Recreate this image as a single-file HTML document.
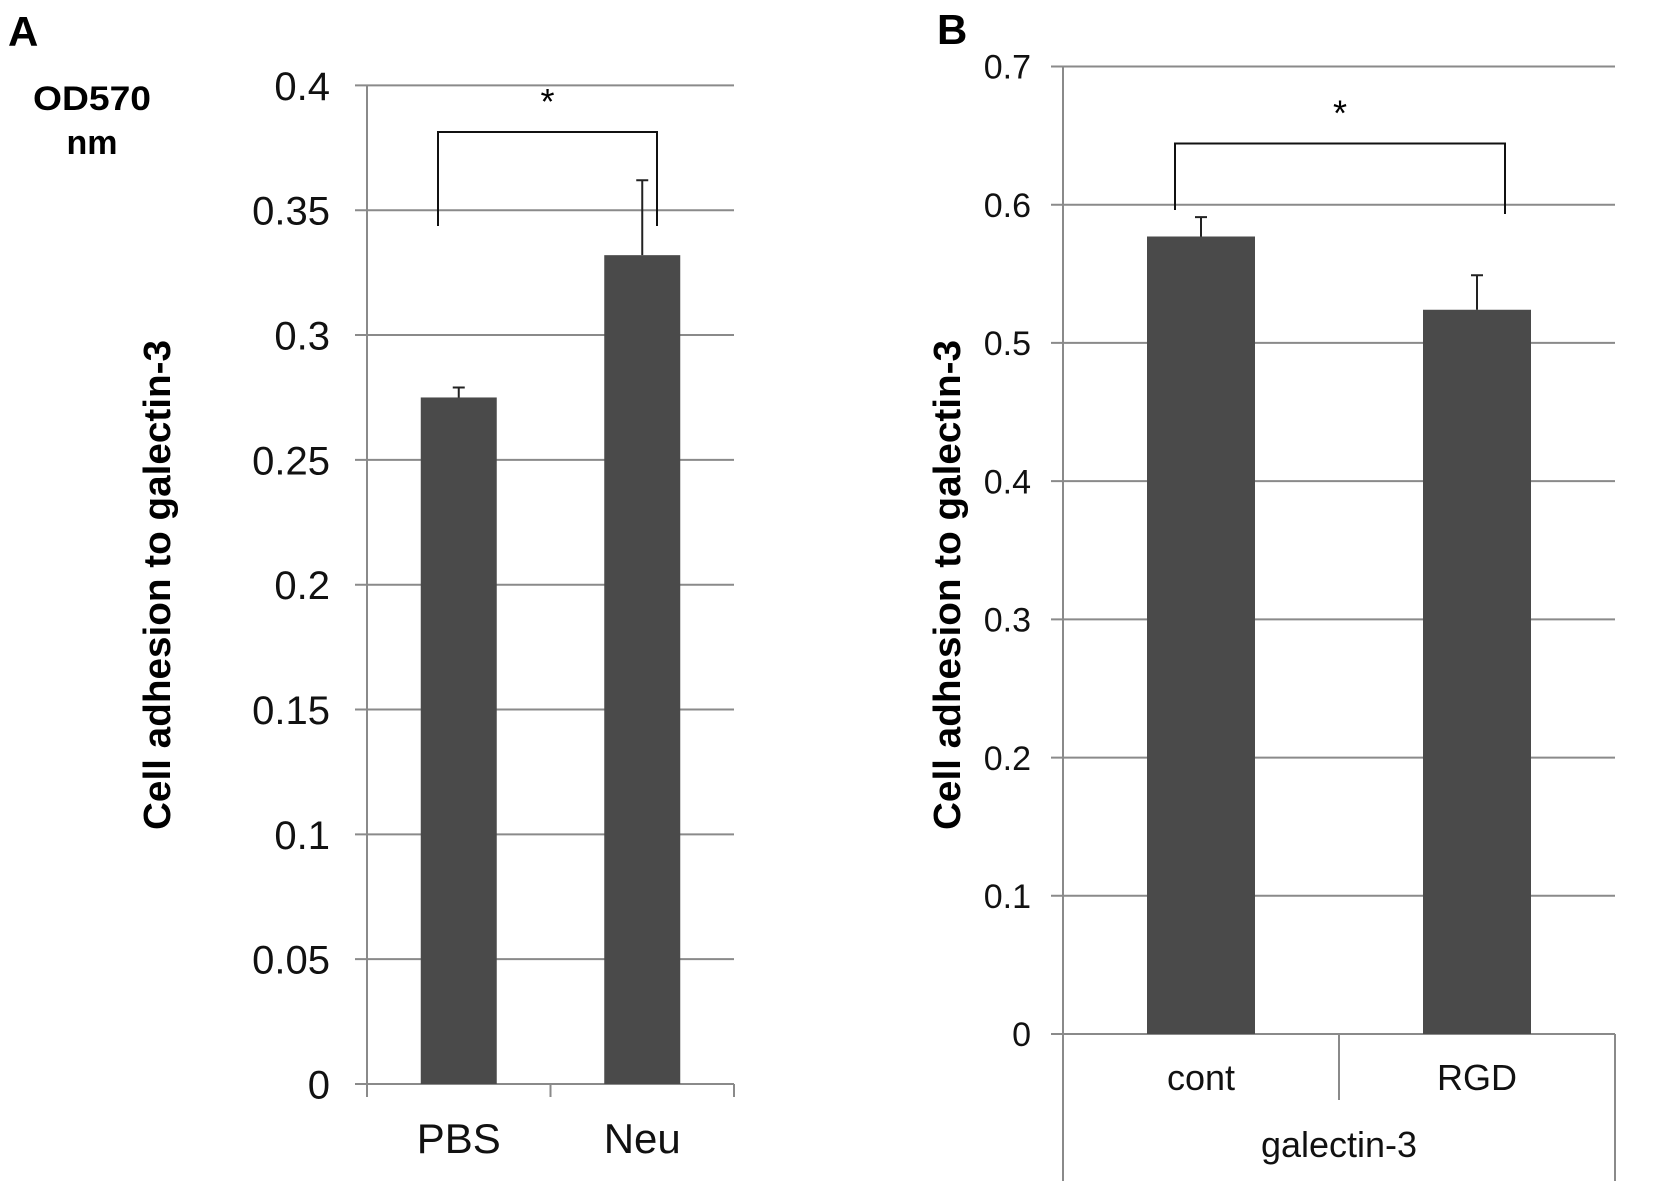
<!DOCTYPE html>
<html><head><meta charset="utf-8"><style>
body{margin:0;background:#fff}
svg{display:block;font-family:"Liberation Sans",Arial,sans-serif}
</style></head><body>
<svg id="c" width="1654" height="1181" viewBox="0 0 1654 1181">
<text x="8" y="46" font-size="42" font-weight="bold">A</text>
<text x="92" y="110" font-size="34" font-weight="bold" text-anchor="middle" textLength="118" lengthAdjust="spacingAndGlyphs">OD570</text>
<text x="92" y="154" font-size="34" font-weight="bold" text-anchor="middle">nm</text>
<text transform="translate(170,585) rotate(-90)" font-size="38" font-weight="bold" text-anchor="middle" textLength="490" lengthAdjust="spacingAndGlyphs">Cell adhesion to galectin-3</text>
<text x="937" y="44" font-size="42" font-weight="bold">B</text>
<text transform="translate(960,585) rotate(-90)" font-size="38" font-weight="bold" text-anchor="middle" textLength="490" lengthAdjust="spacingAndGlyphs">Cell adhesion to galectin-3</text>
<g id="ga"></g><g id="gb"></g>
</svg>
<script>
const catsA=["PBS","Neu"];
const valsA=[0.275,0.332];
const errA=[0.004,0.030];
const ticksA=["0","0.05","0.1","0.15","0.2","0.25","0.3","0.35","0.4"];
const catsB=["cont","RGD"];
const valsB=[0.577,0.524];
const errB=[0.014,0.025];
const ticksB=["0","0.1","0.2","0.3","0.4","0.5","0.6","0.7"];
const NS="http://www.w3.org/2000/svg";
function mk(g,tag,at,txt){const e=document.createElementNS(NS,tag);for(const k in at)e.setAttribute(k,at[k]);if(txt!==undefined)e.textContent=txt;g.appendChild(e);return e;}
function panel(g,cfg,cats,vals,errs,ticks){
  const y=v=>cfg.y0-(v/cfg.max)*(cfg.y0-cfg.y1);
  const bw=(cfg.x1-cfg.x0)/cats.length;
  const x=i=>cfg.x0+bw*(i+0.5);
  ticks.forEach(t=>{const v=parseFloat(t);const yy=y(v);
    const l=mk(g,'line',{x1:cfg.x0-12,x2:cfg.x1,y1:yy,y2:yy,stroke:'#8a8a8a','stroke-width':2});
    
    
    const tx=mk(g,'text',{x:cfg.x0-cfg.lblGap,y:yy+cfg.fs*0.36,'font-size':cfg.fs,'text-anchor':'end',fill:'#111'},t);
    
    
  });
  const ax=mk(g,'line',{x1:cfg.x0,x2:cfg.x0,y1:y(cfg.max),y2:cfg.axBottom,stroke:'#8a8a8a','stroke-width':2});
  
  
  cats.forEach((c,i)=>{
    const top=y(vals[i]);
    const r=mk(g,'rect',{x:x(i)-cfg.barW/2,y:top,width:cfg.barW,height:cfg.y0-top,fill:'#4a4a4a'});
    
    
    const ye=y(vals[i]+errs[i]);
    const e=mk(g,'path',{d:`M${x(i)} ${top}V${ye}M${x(i)-6} ${ye}H${x(i)+6}`,stroke:'#222','stroke-width':2,fill:'none'});
    
    
    const t=mk(g,'text',{x:x(i),y:cfg.catY,'font-size':cfg.cfs,'text-anchor':'middle',fill:'#111'},c);
    
    
  });
  for(let i=1;i<cats.length;i++){const xx=cfg.x0+bw*i;
    const d=mk(g,'line',{x1:xx,x2:xx,y1:cfg.y0,y2:cfg.midBottom,stroke:'#8a8a8a','stroke-width':2});
    
    }
  const rt=mk(g,'line',{x1:cfg.x1,x2:cfg.x1,y1:cfg.y0,y2:cfg.rBottom,stroke:'#8a8a8a','stroke-width':2});
  
  
  const b=cfg.br;
  const br=mk(g,'path',{d:`M${b[0]} ${b[3]}V${b[2]}H${b[1]}V${b[4]}`,stroke:'#111','stroke-width':2,fill:'none'});
  
  
  const st=mk(g,'text',{x:(b[0]+b[1])/2,y:b[2]-18,'font-size':36,'text-anchor':'middle'},'*');
  
  
}
panel(document.getElementById('ga'),{x0:367,x1:734,y0:1084,y1:85.4,max:0.4,lblGap:37,fs:40,cfs:42,barW:76,catY:1153,axBottom:1097,midBottom:1097,rBottom:1097,br:[438,657,132,226,226]},catsA,valsA,errA,ticksA);
panel(document.getElementById('gb'),{x0:1063,x1:1615,y0:1034,y1:66.5,max:0.7,lblGap:32,fs:34,cfs:36,barW:108,catY:1090,axBottom:1181,midBottom:1100,rBottom:1181,br:[1175,1505,143.5,210,214]},catsB,valsB,errB,ticksB);
const g=document.getElementById('gb');
const gl=mk(g,'text',{x:1339,y:1157,'font-size':36,'text-anchor':'middle',fill:'#111'},'galectin-3');


</script>
</body></html>
